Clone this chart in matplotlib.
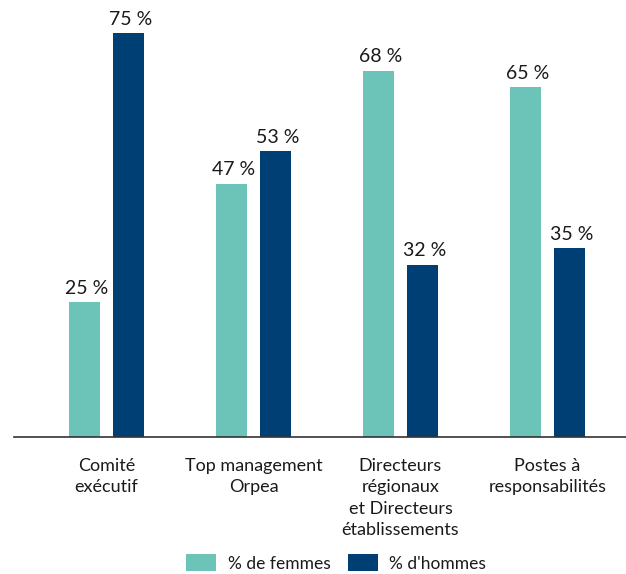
import matplotlib
matplotlib.use("Agg")
import matplotlib.pyplot as plt
import numpy as np

categories = ["Comité\nexécutif", "Top management\nOrpea",
              "Directeurs\nrégionaux\net Directeurs\nétablissements",
              "Postes à\nresponsabilités"]
femmes = [25, 47, 68, 65]
hommes = [75, 53, 32, 35]
series_names = ["% de femmes", "% d'hommes"]

TEAL = "#6cc4b8"
NAVY = "#003f73"

plt.rcParams["font.family"] = ["Lato", "DejaVu Sans"]

W, H = 626, 574
fig = plt.figure(figsize=(W / 100, H / 100), dpi=100)

# axes placed in pixel terms: baseline at y=437, spans x=14..626
px_per_unit = 147.0
left_px, base_px = 14, 437
ax = fig.add_axes([left_px / W, (H - base_px) / H, (W - left_px) / W, (base_px - 6) / H])
x0 = -(106.5 - left_px) / px_per_unit
ax.set_xlim(x0, x0 + (W - left_px) / px_per_unit)
ax.set_ylim(0, (base_px - 6) / 5.387)

x = np.arange(len(categories))
bw = 31 / px_per_unit
off = 22 / px_per_unit
b1 = ax.bar(x - off, femmes, bw, color=TEAL, label=series_names[0])
b2 = ax.bar(x + off, hommes, bw, color=NAVY, label=series_names[1])

for bars, vals in ((b1, femmes), (b2, hommes)):
    for rect, v in zip(bars, vals):
        ax.annotate(f"{v} %", (rect.get_x() + rect.get_width() / 2, v),
                    xytext=(1.5, 6), textcoords="offset points",
                    ha="center", va="baseline", fontsize=14, color="#1a1a1a")

for s in ["top", "right", "left"]:
    ax.spines[s].set_visible(False)
ax.spines["bottom"].set_color("#333333")
ax.spines["bottom"].set_linewidth(1.2)
ax.set_yticks([])
ax.set_xticks(x)
ax.set_xticklabels(categories, fontsize=13, color="#1a1a1a", linespacing=1.42)
ax.tick_params(axis="x", length=0, pad=15)

fig.legend(loc="center", bbox_to_anchor=(336 / W, 1 - 563 / H), ncol=2,
           frameon=False, fontsize=12.5, handlelength=1.75, handleheight=1.15,
           handletextpad=0.65, columnspacing=1.0, labelcolor="#1a1a1a")

fig.savefig("out.png", dpi=100)
